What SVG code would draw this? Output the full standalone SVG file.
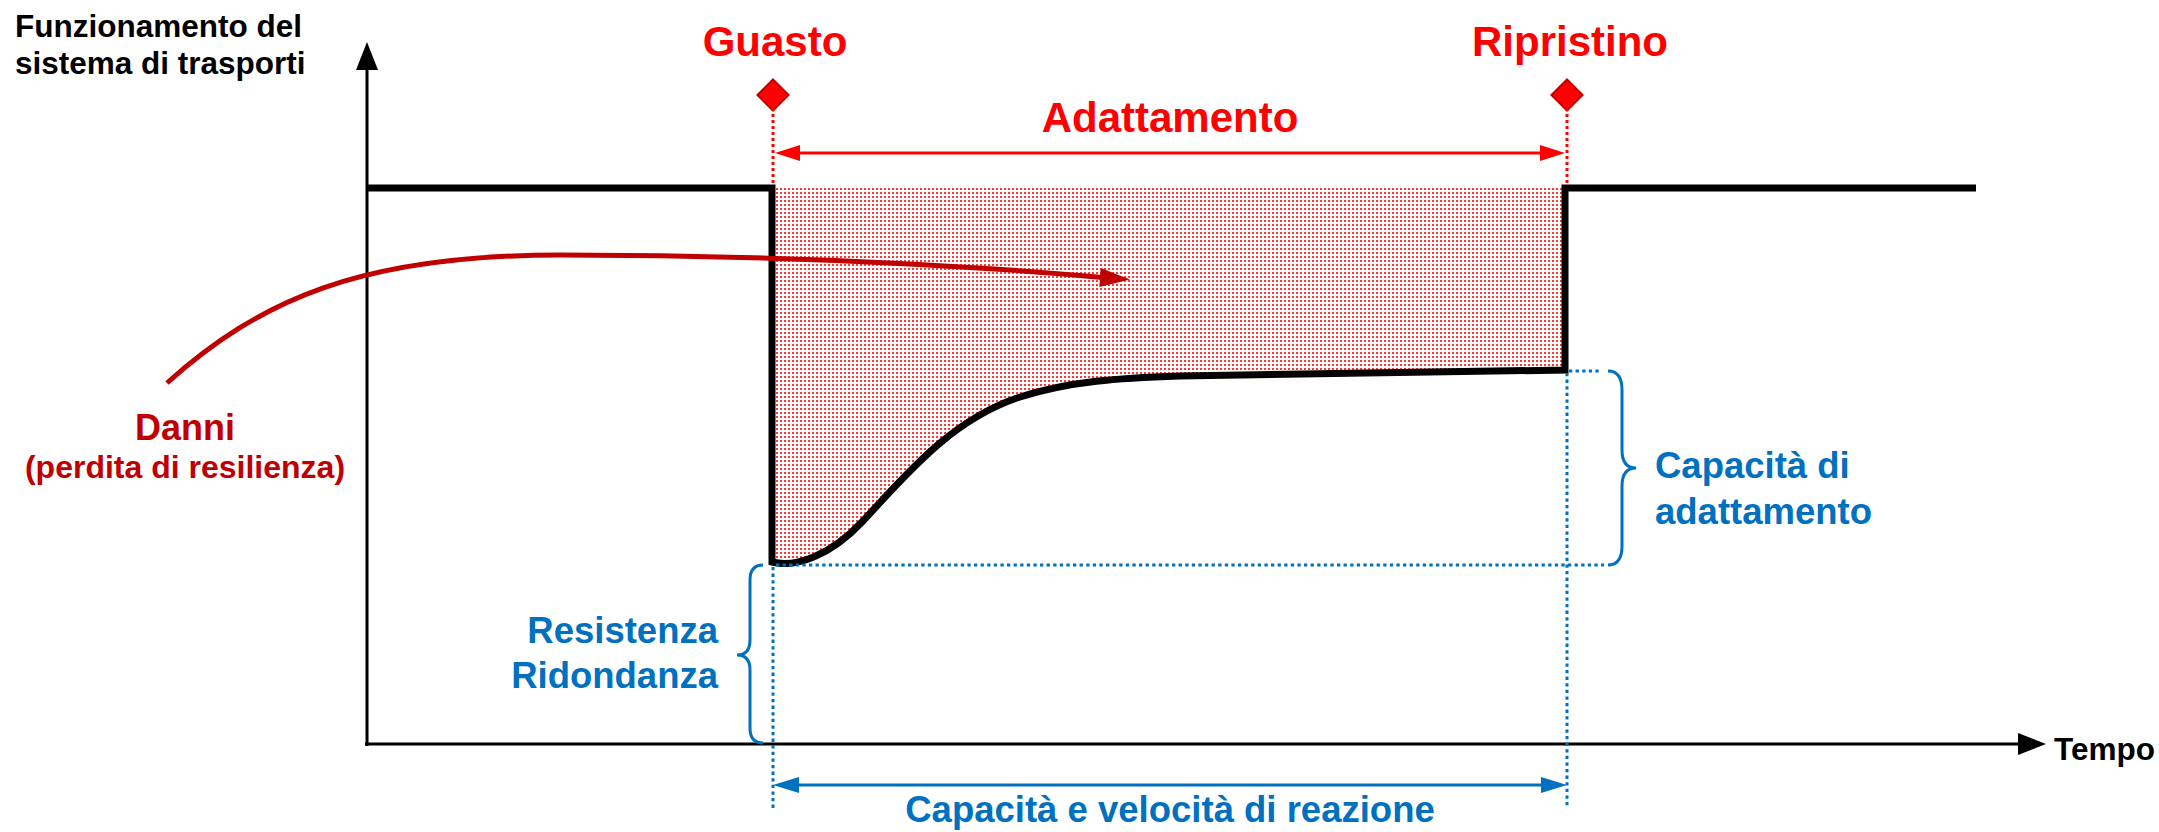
<svg xmlns="http://www.w3.org/2000/svg" width="2159" height="832" viewBox="0 0 2159 832">
<style>
text{font-family:"Liberation Sans",Arial,sans-serif;font-weight:bold}
.blk{fill:#000;font-size:31.5px}
.red{fill:#ff0000;font-size:42px;text-anchor:middle}
.dred{fill:#c00000}
.blue{fill:#0070c0;font-size:36.5px}
.axis{stroke:#000;stroke-width:3;fill:none}
.func{stroke:#000;stroke-width:7;fill:none;stroke-linejoin:miter}
.rdot{stroke:#ff0000;stroke-width:3;stroke-dasharray:3 3;fill:none}
.bdot{stroke:#0070c0;stroke-width:3;stroke-dasharray:3.3 3.3;fill:none}
.brace{stroke:#0070c0;stroke-width:3;fill:none}
.rline{stroke:#ff0000;stroke-width:3;fill:none}
.bline{stroke:#0070c0;stroke-width:3;fill:none}
.diam{fill:#ff0000;stroke:#c00000;stroke-width:2}
</style>
<defs>
<pattern id="dots" patternUnits="userSpaceOnUse" width="4" height="4">
<rect x="0" y="0" width="2" height="2" fill="#ff3636"/>
</pattern>
</defs>
<rect width="2159" height="832" fill="#fff"/>

<g id="loss-area">
<path d="M775,188 H1565 V371 L1180,376 C1120,378 1070,381 1020,397 C950,420 905,476 862,522 C830,556 795,568 775,562 Z" fill="url(#dots)"/>
</g>

<g id="axes">
<path class="axis" d="M367,746 V66"/>
<polygon points="367,42 356,70 378,70" fill="#000"/>
<path class="axis" d="M365,744 H2020"/>
<polygon points="2046,744 2018,733 2018,755" fill="#000"/>
<text class="blk" x="15" y="37">Funzionamento del</text>
<text class="blk" x="15" y="74">sistema di trasporti</text>
<text class="blk" x="2054" y="760" font-size="31">Tempo</text>
</g>

<g id="function-curve">
<path class="func" d="M366,188 H772 V562 C795,568 830,556 862,522 C905,476 950,420 1020,397 C1070,381 1120,378 1180,376 L1565,370 V188 H1976"/>
</g>

<g id="guasto">
<rect class="diam" x="762" y="84" width="22" height="22" transform="rotate(45 773 95)"/>
<text class="red" x="775" y="56">Guasto</text>
</g>

<g id="ripristino">
<rect class="diam" x="1556" y="84" width="22" height="22" transform="rotate(45 1567 95)"/>
<text class="red" x="1570" y="56">Ripristino</text>
</g>

<g id="adattamento">
<text class="red" x="1170" y="132">Adattamento</text>
</g>

<g id="danni">
<text class="dred" x="185" y="440" font-size="36" text-anchor="middle">Danni</text>
<text class="dred" x="185" y="478" font-size="32" text-anchor="middle">(perdita di resilienza)</text>
</g>

<g id="resistenza">
<text class="blue" x="718" y="643" text-anchor="end">Resistenza</text>
<text class="blue" x="718" y="688" text-anchor="end">Ridondanza</text>
</g>

<g id="capacita-adattamento">
<text class="blue" x="1655" y="478" font-size="36">Capacità di</text>
<text class="blue" x="1655" y="524" font-size="36">adattamento</text>
</g>

<g id="capacita-reazione">
<text class="blue" x="1170" y="822" text-anchor="middle" font-size="37">Capacità e velocità di reazione</text>
</g>

<g id="connectors">
<path class="rdot" d="M773,108 V186"/>
<path class="rdot" d="M1567,108 V186"/>
<path class="rline" d="M798,153 H1542"/>
<polygon points="775,153 800,145 800,161" fill="#ff0000"/>
<polygon points="1565,153 1540,145 1540,161" fill="#ff0000"/>

<path d="M167,383 C260,300 360,255 560,255 C800,255 1000,268 1103,277.5" stroke="#c00000" stroke-width="5" fill="none"/>
<polygon points="1130,279.5 1100.7,268 1099.3,287" fill="#c00000"/>

<path class="bdot" d="M776,565 H1604"/>
<path class="bdot" d="M1569,371 H1602"/>
<path class="bdot" d="M773,567 V808"/>
<path class="bdot" d="M1567,373 V808"/>

<path class="brace" d="M1608,371 Q1622,371 1622,390 V450 Q1622,468 1636,468 Q1622,468 1622,486 V546 Q1622,565 1608,565"/>
<path class="brace" d="M763,565 Q750,565 750,580 V640 Q750,655 737,655 Q750,655 750,670 V728 Q750,743 763,743"/>

<path class="bline" d="M797,785 H1543"/>
<polygon points="773,785 799,777 799,793" fill="#0070c0"/>
<polygon points="1567,785 1541,777 1541,793" fill="#0070c0"/>
</g>
</svg>
